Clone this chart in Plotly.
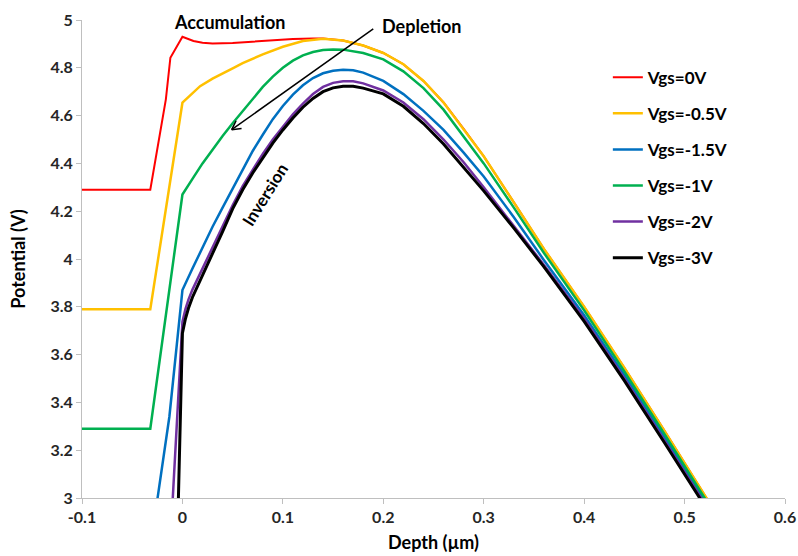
import math
import plotly.graph_objects as go

# Potential profiles vs depth for several gate voltages
depth_0V = [-0.1, -0.032, -0.0165, -0.012, 0.0, 0.011, 0.02, 0.03, 0.05, 0.07, 0.09, 0.11,
            0.13, 0.14, 0.16, 0.18, 0.2, 0.22, 0.24, 0.26, 0.28, 0.3, 0.33, 0.36, 0.4,
            0.44, 0.48, 0.52, 0.55]
pot_0V = [4.29, 4.29, 4.668, 4.842, 4.93, 4.912, 4.905, 4.902, 4.904, 4.91, 4.916, 4.92,
          4.923, 4.923, 4.914, 4.893, 4.862, 4.815, 4.745, 4.655, 4.545, 4.43, 4.237, 4.042, 3.80,
          3.545, 3.281, 3.013, 2.81]

depth_m05V = [-0.1, -0.032, 0.0, 0.01, 0.0176, 0.03, 0.04, 0.051, 0.06, 0.07, 0.08, 0.1, 0.12,
              0.14, 0.16, 0.18, 0.2, 0.22, 0.24, 0.26, 0.28, 0.3, 0.33, 0.36, 0.4,
              0.44, 0.48, 0.52, 0.55]
pot_m05V = [3.79, 3.79, 4.654, 4.695, 4.723, 4.755, 4.778, 4.80, 4.82, 4.838, 4.856, 4.888, 4.912,
            4.922, 4.914, 4.893, 4.862, 4.815, 4.745, 4.655, 4.545, 4.43, 4.237, 4.042, 3.80,
            3.545, 3.281, 3.013, 2.81]

depth_m15V = [-0.1, -0.032, -0.013, 0.0, 0.01, 0.02, 0.03, 0.04, 0.05, 0.06, 0.07, 0.08, 0.09,
              0.1, 0.11, 0.12, 0.13, 0.14, 0.15, 0.16, 0.17, 0.18, 0.2, 0.22, 0.24, 0.26,
              0.28, 0.3, 0.33, 0.36, 0.4, 0.44, 0.48, 0.52, 0.55]
pot_m15V = [2.79, 2.79, 3.34, 3.87, 3.96, 4.05, 4.135, 4.215, 4.295, 4.375, 4.452, 4.52, 4.585,
            4.64, 4.688, 4.727, 4.757, 4.777, 4.788, 4.792, 4.79, 4.78, 4.745, 4.69, 4.62, 4.54,
            4.445, 4.345, 4.175, 3.995, 3.765, 3.515, 3.255, 2.993, 2.795]

depth_m1V = [-0.1, -0.032, 0.0, 0.0044, 0.01, 0.02, 0.03, 0.04, 0.05, 0.06, 0.07, 0.08, 0.09,
             0.1, 0.11, 0.12, 0.13, 0.14, 0.15, 0.16, 0.18, 0.2, 0.22, 0.24, 0.26, 0.28,
             0.3, 0.33, 0.36, 0.4, 0.44, 0.48, 0.52, 0.55]
pot_m1V = [3.29, 3.29, 4.27, 4.30, 4.335, 4.40, 4.46, 4.515, 4.568, 4.62, 4.67, 4.72, 4.763,
           4.80, 4.83, 4.852, 4.866, 4.874, 4.877, 4.876, 4.862, 4.835, 4.785, 4.715, 4.625, 4.515,
           4.40, 4.215, 4.025, 3.785, 3.53, 3.267, 3.0, 2.80]

depth_m2V = [-0.1, -0.032, -0.013, 0.0, 0.003, 0.006, 0.01, 0.02, 0.03, 0.04, 0.05, 0.06, 0.07,
             0.08, 0.09, 0.1, 0.11, 0.12, 0.13, 0.14, 0.15, 0.16, 0.17, 0.18, 0.2, 0.22,
             0.24, 0.26, 0.28, 0.3, 0.33, 0.36, 0.4, 0.44, 0.48, 0.52, 0.55]
pot_m2V = [2.29, 2.29, 2.74, 3.738, 3.79, 3.83, 3.872, 3.96, 4.05, 4.14, 4.225, 4.305, 4.375,
           4.44, 4.50, 4.555, 4.605, 4.65, 4.69, 4.72, 4.737, 4.744, 4.744, 4.735, 4.705, 4.655,
           4.585, 4.50, 4.405, 4.30, 4.14, 3.975, 3.75, 3.50, 3.24, 2.98, 2.78]

depth_m3V = [-0.1, -0.032, -0.013, 0.0, 0.003, 0.006, 0.01, 0.02, 0.03, 0.04, 0.05, 0.06, 0.07,
             0.08, 0.09, 0.1, 0.11, 0.12, 0.13, 0.14, 0.15, 0.16, 0.17, 0.18, 0.2, 0.22,
             0.24, 0.26, 0.28, 0.3, 0.33, 0.36, 0.4, 0.44, 0.48, 0.52, 0.55]
pot_m3V = [1.29, 1.29, 1.45, 3.69, 3.75, 3.794, 3.84, 3.93, 4.022, 4.115, 4.21, 4.29, 4.36,
           4.425, 4.485, 4.54, 4.59, 4.635, 4.672, 4.70, 4.716, 4.723, 4.723, 4.715, 4.691, 4.639,
           4.567, 4.481, 4.385, 4.285, 4.129, 3.967, 3.739, 3.491, 3.231, 2.967, 2.77]

series = [
    ("Vgs=0V", depth_0V, pot_0V, "#FF0000", 2.0),
    ("Vgs=-0.5V", depth_m05V, pot_m05V, "#FFC000", 2.5),
    ("Vgs=-1.5V", depth_m15V, pot_m15V, "#0070C0", 2.5),
    ("Vgs=-1V", depth_m1V, pot_m1V, "#00B050", 2.5),
    ("Vgs=-2V", depth_m2V, pot_m2V, "#7030A0", 2.5),
    ("Vgs=-3V", depth_m3V, pot_m3V, "#000000", 3.0),
]

x_ticks = [-0.1, 0, 0.1, 0.2, 0.3, 0.4, 0.5, 0.6]
x_tick_labels = ["-0.1", "0", "0.1", "0.2", "0.3", "0.4", "0.5", "0.6"]

FONT = "Lato"
TXT = "#262626"
AXIS = "#BFBFBF"

fig = go.Figure()
for i, (name, xs, ys, color, w) in enumerate(series):
    fig.add_trace(go.Scatter(
        x=xs, y=ys, mode="lines", name=name, legendgroup=f"g{i}",
        line=dict(color=color, width=w),
    ))

X_RANGE = [-0.1, 0.6]
Y_RANGE = [3, 5]
W, H = 798, 556
M = dict(l=82, r=13, t=20, b=58)
px_per_x = (W - M["l"] - M["r"]) / (X_RANGE[1] - X_RANGE[0])
px_per_y = (H - M["t"] - M["b"]) / (Y_RANGE[1] - Y_RANGE[0])

# Depletion arrow: straight shaft with an open V head
tail = (0.190, 4.963)
tip = (0.049, 4.541)
fig.add_shape(type="line", x0=tail[0], y0=tail[1], x1=tip[0], y1=tip[1],
              line=dict(color="black", width=1.5))
dxp = (tail[0] - tip[0]) * px_per_x
dyp = (tail[1] - tip[1]) * px_per_y
ang = math.atan2(dyp, dxp)
for s in (-1, 1):
    a = ang + s * math.radians(28)
    bx = tip[0] + 10 * math.cos(a) / px_per_x
    by = tip[1] + 10 * math.sin(a) / px_per_y
    fig.add_shape(type="line", x0=tip[0], y0=tip[1], x1=bx, y1=by,
                  line=dict(color="black", width=1.5))

notes = [
    ("Accumulation", 0.047, 4.99, 0, 18),
    ("Depletion", 0.238, 4.975, 0, 18),
    ("Inversion", 0.082, 4.27, -58, 17),
]
for text, x, y, rot, size in notes:
    fig.add_annotation(x=x, y=y, text=text, showarrow=False, textangle=rot,
                       font=dict(family=FONT, size=size, color="black", weight="bold"))

fig.update_layout(
    width=W, height=H, margin=M,
    paper_bgcolor="white", plot_bgcolor="white",
    font=dict(family=FONT, color=TXT),
    showlegend=True,
    legend=dict(x=0.748, y=0.917, xanchor="left", yanchor="top",
                tracegroupgap=11, bgcolor="rgba(0,0,0,0)",
                font=dict(family=FONT, size=17, color="black", weight="bold")),
    xaxis=dict(range=X_RANGE, tickvals=x_ticks, ticktext=x_tick_labels, automargin=False,
               showgrid=False, zeroline=False, showline=True, linecolor=AXIS, linewidth=1,
               ticks="outside", ticklen=5, tickcolor=AXIS,
               tickfont=dict(family=FONT, size=16, color=TXT, weight="bold"),
               title=dict(text="Depth (µm)", standoff=11,
                          font=dict(family=FONT, size=18, color="black", weight="bold"))),
    yaxis=dict(range=Y_RANGE, dtick=0.2, tick0=3, automargin=False,
               showgrid=False, zeroline=False, showline=True, linecolor=AXIS, linewidth=1,
               ticks="outside", ticklen=5, tickcolor=AXIS,
               tickfont=dict(family=FONT, size=16, color=TXT, weight="bold"),
               title=dict(text="Potential (V)", standoff=20,
                          font=dict(family=FONT, size=18, color="black", weight="bold"))),
)

fig.write_html("out.html")
